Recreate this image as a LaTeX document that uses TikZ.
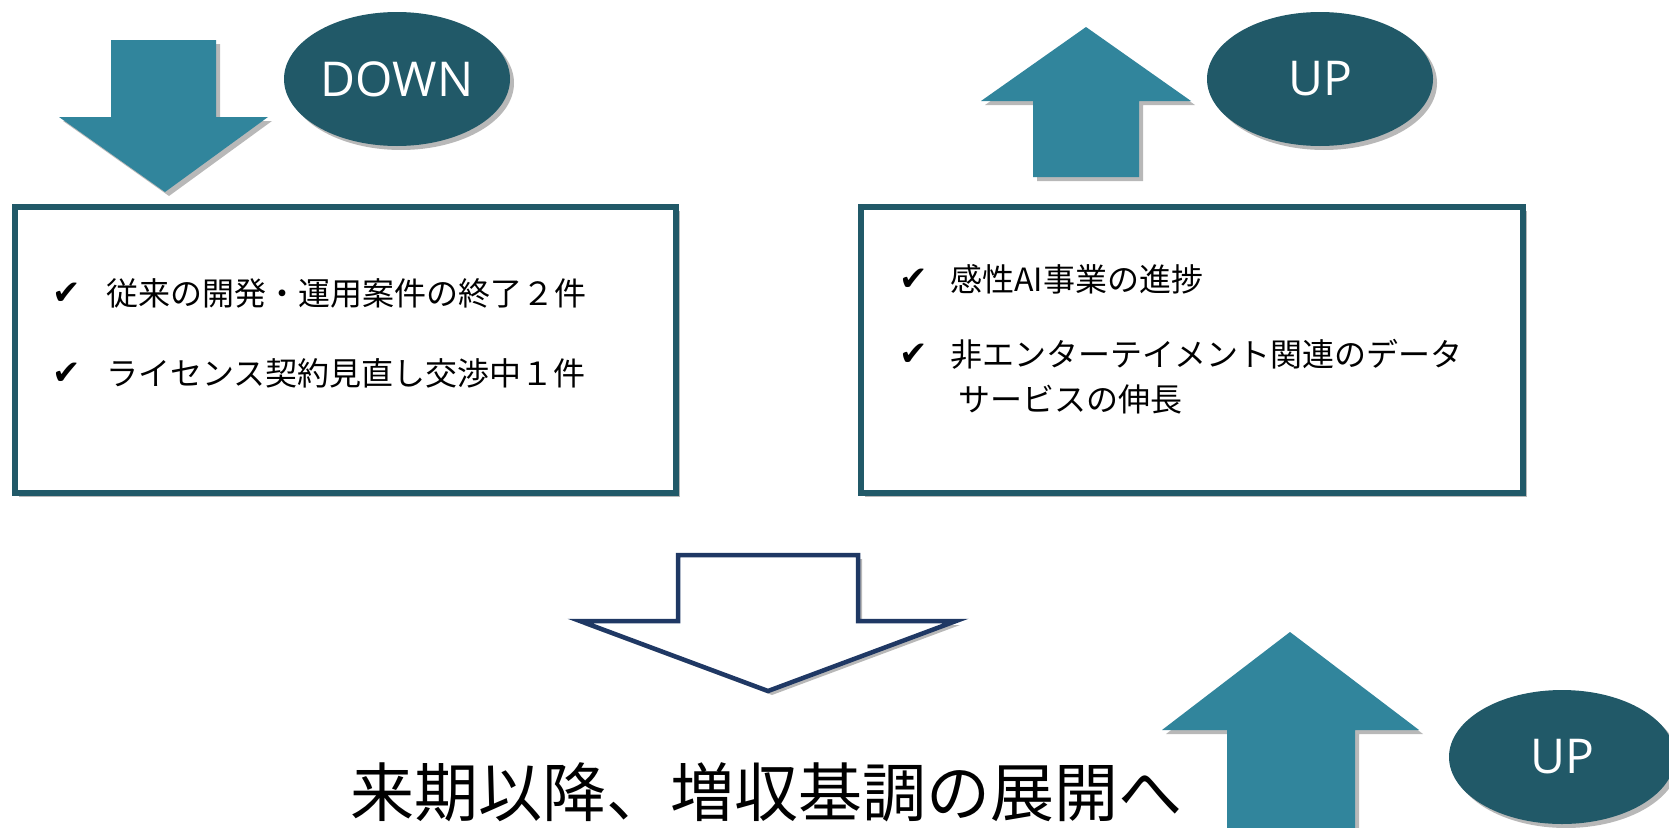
\documentclass[tikz,border=0pt]{standalone}
\usepackage{fontspec}
\setmainfont{Open Sans}
\newfontfamily\jpfont{Noto Sans CJK JP}
\newfontfamily\symfont{DejaVu Sans}
\usetikzlibrary{shadows,shapes.geometric}
\definecolor{arrowteal}{HTML}{31859C}
\definecolor{darkteal}{HTML}{215968}
\definecolor{navyline}{HTML}{1F3864}
\begin{document}
\begin{tikzpicture}[x=1pt,y=-1pt,
  shd/.style={drop shadow={shadow xshift=4pt,shadow yshift=-4pt,opacity=0.28,fill=black}},
  listbox/.style={draw=darkteal,line width=5.5pt,fill=white,shd,inner sep=0pt},
  tealarrow/.style={fill=arrowteal,draw=none,shd},
  outarrow/.style={draw=navyline,line width=4.5pt,fill=white,line join=miter,shd},
  bubble/.style={ellipse,fill=darkteal,draw=none,shd,text=white,inner sep=0pt,
    minimum width=226pt,minimum height=134pt,font=\fontsize{48}{52}\selectfont},
  item/.style={anchor=base west,inner sep=0pt,font=\jpfont\fontsize{32}{36}\selectfont},
  tick/.style={anchor=base west,inner sep=0pt,font=\symfont\fontsize{34}{38}\selectfont},
]
\useasboundingbox (0,0) rectangle (1669,827);
\fill[white] (0,0) rectangle (1669,827);

% boxes
\node[listbox,minimum width=661pt,minimum height=286pt] (leftbox) at (345.5,350) {};
\node[listbox,minimum width=662pt,minimum height=286pt] (rightbox) at (1192,350) {};

% top-left down arrow
\path[tealarrow] (111,40) -- (216,40) -- (216,117) -- (268,117) -- (165,192) -- (59,117) -- (111,117) -- cycle;
\node[bubble] (down) at (397,79) {DOWN};

% top-right up arrow
\path[tealarrow] (1033,177) -- (1139,177) -- (1139,101) -- (1191,101) -- (1086,27) -- (981,101) -- (1033,101) -- cycle;
\node[bubble] (up1) at (1320,79) {UP};

% left list
\node[tick] (c1) at (52,304) {✔};
\node[item] (l1) at (106,305) {従来の開発・運用案件の終了２件};
\node[tick] (c2) at (52,384) {✔};
\node[item] (l2) at (106,385) {ライセンス契約見直し交渉中１件};

% right list
\node[tick] (c3) at (899,290) {✔};
\node[item] (r1) at (950,291) {感性AI事業の進捗};
\node[tick] (c4) at (899,365) {✔};
\node[item] (r2) at (950,366) {非エンターテイメント関連のデータ};
\node[item] (r3) at (958,411) {サービスの伸長};

% outline down arrow
\path[outarrow] (678,555) -- (858,555) -- (858,621) -- (956,621) -- (768,691) -- (580,621) -- (678,621) -- cycle;

% bottom up arrow
\path[tealarrow] (1227,840) -- (1355,840) -- (1355,730) -- (1419,730) -- (1290,632) -- (1162,730) -- (1227,730) -- cycle;
\node[bubble] (up2) at (1562,757) {UP};

% conclusion
\node[anchor=base,inner sep=0pt,font=\jpfont\fontsize{64}{70}\selectfont] (concl) at (766,816) {来期以降、増収基調の展開へ};
\end{tikzpicture}
\end{document}
